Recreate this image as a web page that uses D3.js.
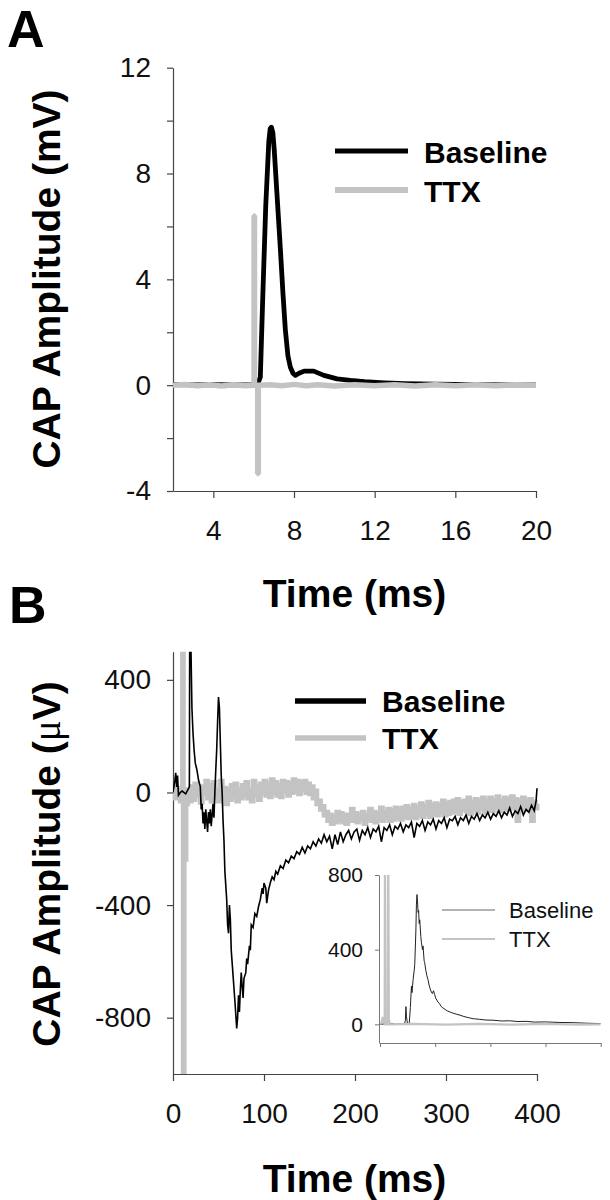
<!DOCTYPE html>
<html><head><meta charset="utf-8">
<script src="https://cdn.jsdelivr.net/npm/d3@7"></script>
<style>html,body{margin:0;padding:0;background:#fff;}svg{display:block;}</style>
</head><body>
<script>
// ---------- DATA ----------
// Panel A (ms, mV)
const aBaseline = [[2,0.02],[3,0.01],[4,0.02],[5,0.01],[6,0.02],[6.2,0.05],[6.33,0.3],[6.45,3.3],[6.6,6.8],[6.75,9.2],[6.82,9.7],[6.88,9.75],[6.95,9.55],[7.02,8.9],[7.15,7.3],[7.32,5.2],[7.45,3.5],[7.57,2.1],[7.7,1.1],[7.82,0.68],[7.95,0.45],[8.07,0.37],[8.25,0.45],[8.5,0.53],[8.98,0.53],[9.48,0.37],[10.14,0.24],[10.8,0.18],[11.5,0.13],[12.5,0.09],[13.5,0.06],[15,0.04],[17,0.02],[20,0.01]];
const aTTX = [[2,0],[2.6,0.03],[3.2,-0.02],[3.8,0.02],[4.4,-0.03],[5,0.02],[5.6,-0.02],[6.0,0],[6.02,0],[6.02,6.4],[6.04,6.4],[6.04,0],[6.2,0],[6.2,-3.35],[6.23,-3.35],[6.23,0],[6.8,0.02],[7.4,-0.02],[8,0.03],[8.6,-0.02],[9.2,0.02],[10,-0.03],[11,0.02],[12,-0.02],[13,0.02],[14,-0.03],[15,0.02],[16,-0.02],[17,0.02],[18,-0.02],[19,0.02],[20,0]];
const aYTicks = [-4,-2,0,2,4,6,8,10,12];
const aXTicks = [4,8,12,16,20];

// Panel B (ms, µV)
const bBaseline = [[0,0],[1,20],[2,40],[3,70],[4,20],[5,60],[6,-10],[8,0],[10,5],[14,-5],[18,20],[19,1500],[19.8,500],[20.8,300],[22,210],[23.2,150],[24.5,104],[26.3,80],[28,45],[30,21],[31,-60],[32,-40],[33,-110],[34,-70],[35,-130],[36,-60],[37,-100],[38,-140],[39,-70],[40,-110],[41,-60],[42,-120],[43,-80],[44,-40],[45,-90],[46,0],[47,80],[48,150],[49,250],[50,339],[51,300],[52,180],[53,60],[54,0],[55,-100],[56,-170],[57,-280],[58,-330],[59,-380],[60,-470],[61,-500],[62,-400],[63,-450],[64,-560],[66,-650],[68,-740],[70,-838],[71,-800],[72,-720],[73,-780],[74,-700],[75,-640],[76,-690],[77,-730],[78,-660],[80,-640],[81,-590],[82,-610],[84,-545],[85,-560],[86,-470],[88,-480],[90,-430],[92,-440],[94,-405],[96,-380],[98,-340],[99,-360],[100,-322],[102,-340],[103,-393],[105,-346],[107,-320],[109,-300],[111,-310],[113,-280],[115,-290],[118,-260],[121,-270],[124,-240],[127,-250],[130,-226],[133,-235],[136,-210],[139,-220],[142,-195],[145,-215],[148,-190],[151,-200],[154,-175],[157,-190],[160,-165],[163,-180],[166,-150],[169,-175],[172,-155],[175,-200],[178,-150],[181,-185],[184,-140],[187,-175],[190,-150],[193,-135],[196,-165],[199,-140],[202,-130],[205,-170],[208,-135],[211,-150],[214,-125],[217,-160],[220,-130],[223,-140],[226,-120],[229,-175],[232,-125],[235,-135],[238,-115],[241,-150],[244,-120],[247,-130],[250,-110],[253,-140],[256,-115],[259,-125],[262,-105],[265,-160],[268,-110],[271,-120],[274,-100],[277,-135],[280,-105],[283,-115],[286,-95],[289,-130],[292,-100],[295,-110],[298,-90],[301,-125],[304,-95],[307,-100],[310,-85],[313,-115],[316,-90],[319,-100],[322,-80],[325,-110],[328,-85],[331,-95],[334,-75],[337,-100],[340,-80],[343,-90],[346,-70],[349,-95],[352,-75],[355,-85],[358,-65],[361,-90],[364,-70],[367,-80],[370,-55],[373,-85],[376,-65],[379,-75],[382,-50],[385,-80],[388,-60],[391,-70],[394,-45],[397,-65],[399,-30],[400,15]];
const bTTX = [[0,0],[2,-20],[4,15],[6,-10],[8,-30],[9.5,-20],[10.5,1500],[11.3,-1500],[12.2,-20],[13.2,-237],[14.2,-40],[16,10],[18,-30],[20,20],[22,-25],[24,30],[26,-10],[28,15],[30,-35],[32,20],[34,-5],[36,40],[38,-20],[40,25],[42,-30],[44,35],[46,-15],[48,10],[50,-30],[52,40],[54,-20],[56,15],[58,-40],[60,10],[62,-25],[64,25],[66,-15],[68,30],[70,-30],[72,10],[74,-20],[76,25],[78,-10],[80,35],[82,-20],[84,10],[86,-30],[88,40],[90,-10],[92,20],[94,-25],[96,30],[98,0],[100,40],[102,-10],[104,30],[106,-15],[108,45],[110,0],[112,35],[114,-10],[116,25],[118,-15],[120,40],[122,5],[124,35],[126,-10],[128,30],[130,0],[132,45],[134,5],[136,40],[138,-5],[140,35],[142,10],[144,40],[146,0],[148,30],[150,-5],[152,20],[154,-20],[156,5],[158,-40],[160,-30],[162,-60],[164,-50],[166,-80],[168,-70],[170,-100],[172,-80],[174,-110],[176,-85],[178,-105],[180,-70],[182,-100],[184,-75],[186,-105],[188,-80],[190,-110],[192,-80],[194,-100],[196,-60],[198,-100],[200,-75],[202,-105],[204,-80],[206,-95],[208,-70],[210,-110],[212,-80],[214,-95],[216,-60],[218,-100],[220,-70],[222,-105],[224,-75],[226,-95],[228,-55],[230,-100],[232,-70],[234,-90],[236,-60],[238,-100],[240,-65],[242,-95],[244,-55],[246,-90],[248,-60],[250,-95],[252,-55],[254,-85],[256,-50],[258,-90],[260,-60],[262,-85],[264,-45],[266,-90],[268,-55],[270,-80],[272,-40],[274,-85],[276,-50],[278,-75],[280,-35],[282,-85],[284,-45],[286,-75],[288,-40],[290,-80],[292,-45],[294,-70],[296,-30],[298,-80],[300,-40],[302,-75],[304,-35],[306,-70],[308,-30],[310,-65],[312,-25],[314,-75],[316,-35],[318,-60],[320,-30],[322,-65],[324,-20],[326,-75],[328,-35],[330,-60],[332,-25],[334,-70],[336,-30],[338,-55],[340,-20],[342,-70],[344,-30],[346,-55],[348,-20],[350,-65],[352,-30],[354,-50],[356,-15],[358,-65],[360,-30],[362,-55],[364,-20],[366,-60],[368,-25],[370,-50],[372,-15],[374,-55],[376,-25],[378,-100],[380,-30],[382,-55],[384,-20],[386,-60],[388,-30],[390,-55],[392,-25],[394,-100],[396,-35],[398,-55],[400,-40]];
const bYTicks = [400,0,-400,-800];
const bXTicks = [0,100,200,300,400];

// Inset (ms, µV)
const inBaseline = [[0,0],[10,3],[20,5],[28,0],[35,3],[44,0],[46,20],[47,95],[48,40],[50,0],[53,5],[55,90],[57,204],[58,170],[60,240],[62,290],[63,320],[65,500],[66,640],[67,695],[68,660],[69,600],[70,610],[71,540],[72,560],[74,470],[75,440],[77,400],[78,420],[80,340],[81,330],[83,290],[85,260],[87,240],[89,210],[91,190],[93,173],[95,165],[97,180],[99,160],[101,140],[103,130],[105,120],[108,110],[111,95],[114,88],[118,80],[122,72],[127,66],[132,60],[138,55],[145,49],[152,42],[160,36],[169,30],[180,27],[192,23],[205,22],[220,18],[235,19],[250,15],[265,16],[280,12],[300,13],[326,10],[350,9],[375,6],[400,4]];
const inTTX = [[0,0],[3,10],[5,40],[7,20],[8.5,0],[9,1000],[10,0],[14,0],[15,1000],[16,30],[18,0],[21,0],[60,2],[120,-2],[180,2],[240,-2],[300,2],[360,-2],[400,0]];
const inYTicks = [0,400,800];
const inXTicks = [0,100,200,300,400];

// ---------- DRAW ----------
const W = 610, H = 1200;
const FONT = "'Liberation Sans', Arial, Helvetica, sans-serif";
const GRAY = "#c3c3c3";
const AX = "#444";
const svg = d3.select("body").append("svg").attr("width", W).attr("height", H);

function styleAxis(g, fs) {
  g.attr("font-family", FONT).attr("font-size", fs);
  g.selectAll("path.domain").attr("stroke", AX).attr("stroke-width", 1.2);
  g.selectAll(".tick line").attr("stroke", AX).attr("stroke-width", 1.2);
  g.selectAll(".tick text").attr("fill", "#111");
}

// ---- Panel A ----
const xA = d3.scaleLinear().domain([2, 20]).range([173, 536]);
const yA = d3.scaleLinear().domain([-4, 12]).range([491, 67.7]);
const lineA = d3.line().x(d => xA(d[0])).y(d => yA(d[1]));

svg.append("g").attr("transform", `translate(${xA.range()[0]},0)`)
  .call(d3.axisLeft(yA).tickValues(aYTicks).tickFormat(d => d % 4 === 0 ? String(d) : "")
    .tickSize(6).tickPadding(16).tickSizeOuter(0))
  .call(g => styleAxis(g, 28));
svg.append("g").attr("transform", `translate(0,${yA.range()[0]})`)
  .call(d3.axisBottom(xA).tickValues(aXTicks).tickFormat(d => String(d))
    .tickSize(7).tickPadding(22).tickSizeOuter(0))
  .call(g => styleAxis(g, 28));

svg.append("path").datum(aBaseline).attr("d", lineA)
  .attr("fill", "none").attr("stroke", "#000").attr("stroke-width", 4.8).attr("stroke-linejoin", "round");
svg.append("path").datum(aTTX).attr("d", lineA)
  .attr("fill", "none").attr("stroke", GRAY).attr("stroke-width", 5.5).attr("stroke-linejoin", "bevel");

svg.append("text").attr("x", 7).attr("y", 47).attr("font-family", FONT).attr("font-weight", "bold")
  .attr("font-size", 52).text("A");
svg.append("text").attr("x", 354.5).attr("y", 607).attr("text-anchor", "middle")
  .attr("font-family", FONT).attr("font-weight", "bold").attr("font-size", 39).text("Time (ms)");
svg.append("text").attr("transform", "translate(60,279) rotate(-90)").attr("text-anchor", "middle")
  .attr("font-family", FONT).attr("font-weight", "bold").attr("font-size", 39).text("CAP Amplitude (mV)");

// legend A
const legA = [{name: "Baseline", color: "#000", y: 151, w: 5}, {name: "TTX", color: GRAY, y: 190, w: 6}];
legA.forEach(l => {
  svg.append("line").attr("x1", 335).attr("x2", 408).attr("y1", l.y).attr("y2", l.y)
    .attr("stroke", l.color).attr("stroke-width", l.w);
  svg.append("text").attr("x", 424).attr("y", l.y + 11.5).attr("font-family", FONT)
    .attr("font-weight", "bold").attr("font-size", 30).text(l.name);
});

// ---- Panel B ----
const xB = d3.scaleLinear().domain([0, 400]).range([173, 537]);
const yB = d3.scaleLinear().domain([-1000, 500]).range([1074, 651.7]);
const lineB = d3.line().x(d => xB(d[0])).y(d => yB(d[1]));

svg.append("defs").append("clipPath").attr("id", "clipB").append("rect")
  .attr("x", xB.range()[0]).attr("y", yB.range()[1])
  .attr("width", xB.range()[1] - xB.range()[0] + 4).attr("height", yB.range()[0] - yB.range()[1]);

svg.append("g").attr("transform", `translate(${xB.range()[0]},0)`)
  .call(d3.axisLeft(yB).tickValues(bYTicks).tickFormat(d => String(d))
    .tickSize(6).tickPadding(16).tickSizeOuter(0))
  .call(g => styleAxis(g, 28));
svg.append("g").attr("transform", `translate(0,${yB.range()[0]})`)
  .call(d3.axisBottom(xB).tickValues(bXTicks).tickFormat(d => String(d))
    .tickSize(7).tickPadding(22).tickSizeOuter(0))
  .call(g => styleAxis(g, 28));

const gB = svg.append("g").attr("clip-path", "url(#clipB)");
gB.append("path").datum(bTTX).attr("d", d3.line().x(d => xB(d[0])).y(d => yB(d[1])).curve(d3.curveStepAfter))
  .attr("fill", "none").attr("stroke", GRAY).attr("stroke-width", 5);
gB.append("path").datum(bBaseline).attr("d", lineB)
  .attr("fill", "none").attr("stroke", "#000").attr("stroke-width", 1.6);

svg.append("text").attr("x", 9).attr("y", 623).attr("font-family", FONT).attr("font-weight", "bold")
  .attr("font-size", 52).text("B");
svg.append("text").attr("x", 354.5).attr("y", 1192).attr("text-anchor", "middle")
  .attr("font-family", FONT).attr("font-weight", "bold").attr("font-size", 39).text("Time (ms)");
const yt = svg.append("text").attr("transform", "translate(60,864) rotate(-90)").attr("text-anchor", "middle")
  .attr("font-family", FONT).attr("font-weight", "bold").attr("font-size", 39);
yt.append("tspan").text("CAP Amplitude (");
yt.append("tspan").attr("font-family", "'Liberation Serif', 'DejaVu Serif', serif").attr("font-weight", "normal").text("μ");
yt.append("tspan").text("V)");

const legB = [{name: "Baseline", color: "#000", y: 701, w: 5.5}, {name: "TTX", color: GRAY, y: 738, w: 5.5}];
legB.forEach(l => {
  svg.append("line").attr("x1", 295).attr("x2", 366).attr("y1", l.y).attr("y2", l.y)
    .attr("stroke", l.color).attr("stroke-width", l.w);
  svg.append("text").attr("x", 382).attr("y", l.y + 10.5).attr("font-family", FONT)
    .attr("font-weight", "bold").attr("font-size", 30).text(l.name);
});

// ---- Inset ----
const xI = d3.scaleLinear().domain([0, 400]).range([380, 600.7]);
const yI = d3.scaleLinear().domain([-100, 800]).range([1043, 875]);
const lineI = d3.line().x(d => xI(d[0])).y(d => yI(d[1]));

svg.select("defs").append("clipPath").attr("id", "clipI").append("rect")
  .attr("x", xI.range()[0]).attr("y", yI.range()[1])
  .attr("width", xI.range()[1] - xI.range()[0]).attr("height", yI.range()[0] - yI.range()[1]);

svg.append("g").attr("transform", `translate(${xI.range()[0] - 1},0)`)
  .call(d3.axisLeft(yI).tickValues(inYTicks).tickFormat(d => String(d))
    .tickSize(4).tickPadding(12).tickSizeOuter(0))
  .call(g => { styleAxis(g, 21); g.selectAll("path.domain, .tick line").attr("stroke", "#777").attr("stroke-width", 1); });
svg.append("g").attr("transform", `translate(0,${yI.range()[0]})`)
  .call(d3.axisBottom(xI).tickValues(inXTicks).tickFormat("")
    .tickSize(4).tickSizeOuter(0))
  .call(g => { styleAxis(g, 21); g.selectAll("path.domain, .tick line").attr("stroke", "#777").attr("stroke-width", 1); });

const gI = svg.append("g").attr("clip-path", "url(#clipI)");
gI.append("path").datum(inBaseline).attr("d", lineI)
  .attr("fill", "none").attr("stroke", "#222").attr("stroke-width", 1);
gI.append("path").datum(inTTX).attr("d", lineI)
  .attr("fill", "none").attr("stroke", GRAY).attr("stroke-width", 2.2);

const legI = [{name: "Baseline", color: "#999", y: 910, w: 1.5}, {name: "TTX", color: GRAY, y: 939, w: 2.2}];
legI.forEach(l => {
  svg.append("line").attr("x1", 442).attr("x2", 495).attr("y1", l.y).attr("y2", l.y)
    .attr("stroke", l.color).attr("stroke-width", l.w);
  svg.append("text").attr("x", 509).attr("y", l.y + 8.3).attr("font-family", FONT)
    .attr("font-size", 22).attr("fill", "#111").text(l.name);
});
</script>
</body></html>
